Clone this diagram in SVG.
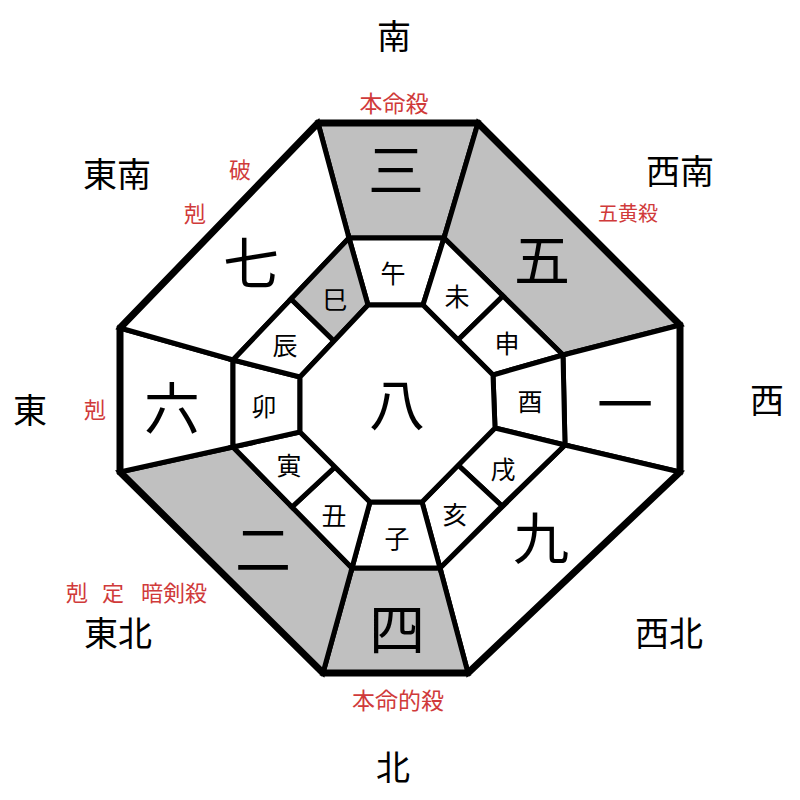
<svg xmlns="http://www.w3.org/2000/svg" width="800" height="800" viewBox="0 0 800 800">
<style>
.c{stroke:#000;stroke-width:5;stroke-linejoin:miter}
.w{fill:#fff}.g{fill:#c0c0c0}
text{font-family:"Noto Sans CJK JP","Noto Sans CJK SC",sans-serif;text-anchor:middle;dominant-baseline:central;fill:#000}
.big{font-size:56px}
.sm{font-size:25px}
.dir{font-size:34px}
.red{font-size:22px;fill:#d03a3a}
</style>
<rect width="800" height="800" fill="#fff"/>
<g id="outer-ring">
<g id="n3"><polygon class="c g" points="318,123 478,123 444,238 349,238"/><text class="big" x="396" y="166">三</text></g>
<g id="n5"><polygon class="c g" points="478,123 680,325 563,355 444,238"/><text class="big" x="542" y="256">五</text></g>
<g id="n1"><polygon class="c w" points="680,325 680,472 565,445 563,355"/><text class="big" x="625" y="400">一</text></g>
<g id="n9"><polygon class="c w" points="680,472 468,673 440,568 565,445"/><text class="big" x="541" y="534">九</text></g>
<g id="n4"><polygon class="c g" points="468,673 323,673 352,568 440,568"/><text class="big" x="397" y="625">四</text></g>
<g id="n2"><polygon class="c g" points="323,673 120,472 233,447 352,568"/><text class="big" x="263" y="545">二</text></g>
<g id="n6"><polygon class="c w" points="120,472 120,328 233,360 233,447"/><text class="big" x="172" y="404">六</text></g>
<g id="n7"><polygon class="c w" points="120,328 318,123 349,238 233,360"/><text class="big" x="251" y="259">七</text></g>
</g>
<g id="middle-ring">
<g id="wu"><polygon class="c w" points="349,238 444,238 423,305 368,305"/><text class="sm" x="393" y="272">午</text></g>
<g id="wei"><polygon class="c w" points="444,238 503,296 458,340 423,305"/><text class="sm" x="457" y="295">未</text></g>
<g id="shen"><polygon class="c w" points="503,296 563,355 493,375 458,340"/><text class="sm" x="507" y="342">申</text></g>
<g id="you"><polygon class="c w" points="563,355 565,445 495,428 493,375"/><text class="sm" x="530" y="400">酉</text></g>
<g id="xu"><polygon class="c w" points="565,445 502,506 458,465 495,428"/><text class="sm" x="503" y="468">戌</text></g>
<g id="hai"><polygon class="c w" points="502,506 440,568 422,502 458,465"/><text class="sm" x="455" y="513">亥</text></g>
<g id="zi"><polygon class="c w" points="440,568 352,568 370,502 422,502"/><text class="sm" x="397" y="537">子</text></g>
<g id="chou"><polygon class="c w" points="352,568 292,507 335,467 370,502"/><text class="sm" x="334" y="514">丑</text></g>
<g id="yin"><polygon class="c w" points="292,507 233,447 300,432 335,467"/><text class="sm" x="289" y="464">寅</text></g>
<g id="mao"><polygon class="c w" points="233,447 233,360 300,377 300,432"/><text class="sm" x="264" y="405">卯</text></g>
<g id="chen"><polygon class="c w" points="233,360 291,299 334,341 300,377"/><text class="sm" x="285" y="344">辰</text></g>
<g id="si"><polygon class="c g" points="291,299 349,238 368,305 334,341"/><text class="sm" x="335" y="298">巳</text></g>
</g>
<g id="center"><polygon class="c w" points="368,305 423,305 493,375 495,428 422,502 370,502 300,432 300,377"/><text class="big" x="397" y="400">八</text></g>
<g id="frame"><polygon points="318,123 478,123 680,325 680,472 468,673 323,673 120,472 120,328" fill="none" stroke="#000" stroke-width="7" stroke-linejoin="miter"/></g>
<g id="directions">
<text class="dir" x="394" y="34">南</text>
<text class="dir" x="117" y="172">東南</text>
<text class="dir" x="680" y="169">西南</text>
<text class="dir" x="30" y="408">東</text>
<text class="dir" x="767" y="398">西</text>
<text class="dir" x="118" y="631">東北</text>
<text class="dir" x="669" y="631">西北</text>
<text class="dir" x="393" y="765">北</text>
</g>
<g id="notes">
<text class="red" x="394" y="102" style="font-size:23px">本命殺</text>
<text class="red" x="240" y="168">破</text>
<text class="red" x="195" y="212">剋</text>
<text class="red" x="628" y="212" style="font-size:20px">五黄殺</text>
<text class="red" x="95" y="408">剋</text>
<text class="red" x="77" y="591">剋</text>
<text class="red" x="113" y="591">定</text>
<text class="red" x="174" y="591">暗剣殺</text>
<text class="red" x="398" y="699" style="font-size:23px">本命的殺</text>
</g>
</svg>
